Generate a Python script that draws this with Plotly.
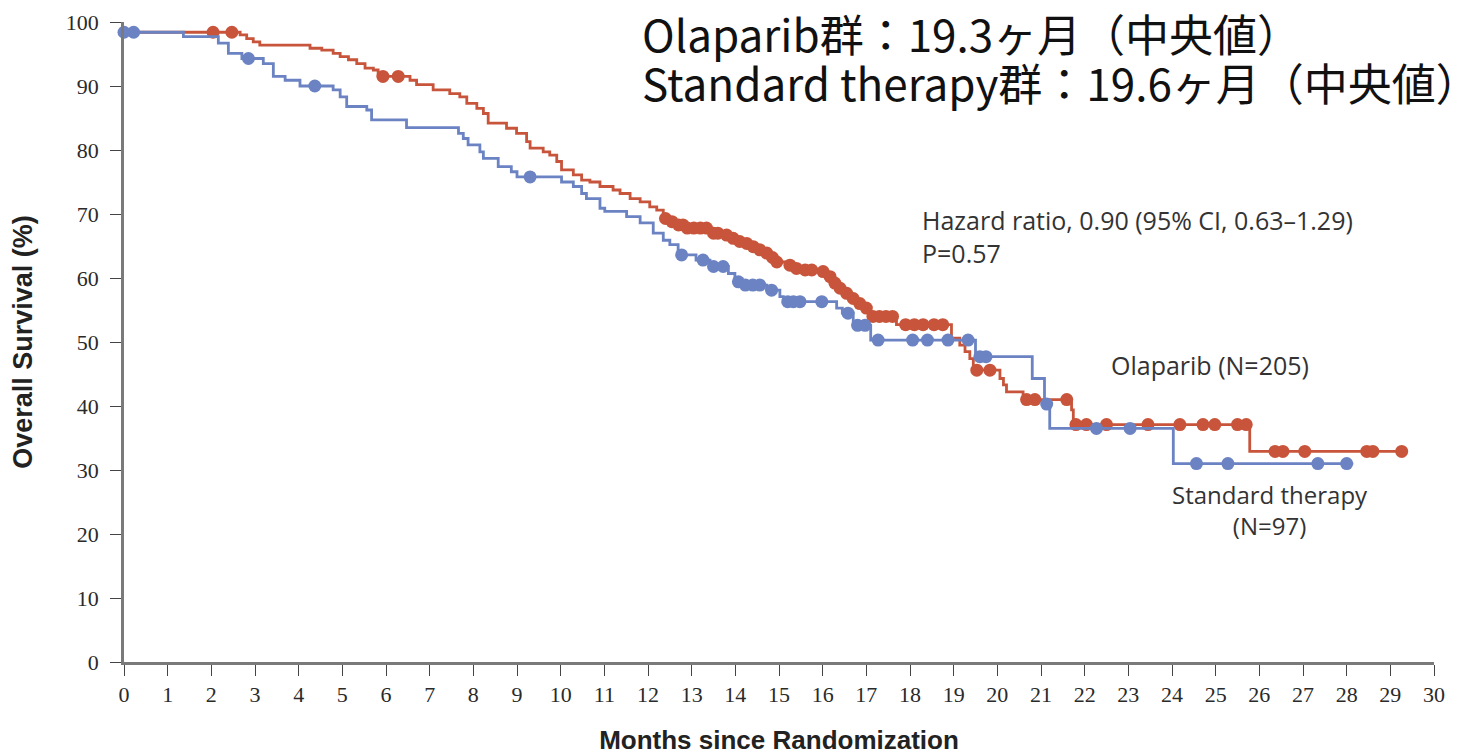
import numpy as np
import plotly.graph_objects as go

# ---------------- data ----------------
olaparib_t = [0, 2.66, 2.81, 2.96, 3.11, 4.26, 4.53, 4.79, 4.95, 5.14, 5.33, 5.52, 5.71, 5.82,
              6.55, 6.7, 7.08, 7.46, 7.69, 7.85, 8.08, 8.23, 8.34, 8.76, 8.99, 9.22, 9.3, 9.6,
              9.75, 9.91, 10.02, 10.29, 10.48, 10.67, 10.9, 11.2, 11.36, 11.59, 11.82, 12.04,
              12.2, 12.35, 12.45, 12.65, 12.85, 13.45, 13.7, 13.9, 14.05, 14.2, 14.35, 14.5,
              14.65, 14.78, 14.9, 15.15, 15.35, 15.55, 15.9, 16.12, 16.25, 16.35, 16.5, 16.65,
              16.8, 16.95, 17.1, 17.69, 18.95, 19.14, 19.26, 19.37, 19.45, 20.06, 20.14, 20.21,
              20.59, 21.7, 21.74, 21.78, 25.78, 29.3]
olaparib_s = [98.4, 98.0, 97.4, 96.9, 96.4, 95.9, 95.6, 95.1, 94.6, 94.1, 93.5, 92.8, 92.5, 91.5,
              90.9, 90.2, 89.4, 88.8, 88.3, 87.3, 86.5, 85.7, 84.2, 83.4, 82.6, 81.3, 80.3, 79.7,
              79.2, 78.2, 76.9, 76.1, 75.3, 75.0, 74.3, 73.75, 73.2, 72.4, 71.9, 71.1,
              70.6, 69.3, 68.8, 68.3, 67.8, 67.0, 66.7, 66.2, 65.7, 65.4, 64.9, 64.4,
              63.9, 63.2, 62.5, 62.0, 61.5, 61.25, 61.0, 60.2, 59.2, 58.4, 57.6, 56.8,
              56.0, 55.3, 54.0, 52.7, 50.6, 49.5, 48.5, 47.4, 45.6, 44.3, 43.3, 42.2,
              41.0, 39.4, 37.8, 37.1, 32.9, 32.9]
olaparib_censor = [2.04, 2.47, 5.93, 6.28, 12.4, 12.55, 12.7, 12.8, 12.9, 13.05, 13.2, 13.34,
                   13.5, 13.6, 13.8, 13.95, 14.1, 14.26, 14.41, 14.56, 14.72, 14.85, 14.95,
                   15.25, 15.4, 15.6, 15.75, 16.01, 16.17, 16.28, 16.4, 16.55, 16.7, 16.85,
                   17.0, 17.15, 17.3, 17.45, 17.6, 17.9, 18.1, 18.3, 18.55, 18.75, 19.53,
                   19.83, 20.67, 20.86, 21.59, 21.8, 22.04, 22.5, 23.45, 24.18, 24.71, 24.98,
                   25.5, 25.7, 26.36, 26.54, 27.04, 28.46, 28.6, 29.26]

standard_t = [0, 1.36, 2.16, 2.39, 2.7, 3.19, 3.42, 3.69, 4.03, 4.79, 4.95, 5.1, 5.56, 5.67,
              6.47, 7.66, 7.77, 7.88, 8.15, 8.23, 8.57, 8.87, 9.0, 10.02, 10.29, 10.48, 10.59,
              10.9, 11.01, 11.51, 11.82, 12.12, 12.35, 12.5, 12.69, 13.1, 13.42, 13.84, 13.99,
              14.18, 14.72, 15.02, 15.1, 16.32, 16.45, 16.7, 17.1, 19.5, 20.8, 21.08, 21.2,
              24.03, 28.15]
standard_s = [98.4, 97.7, 96.7, 95.1, 94.3, 93.5, 91.5, 90.9, 90.0, 89.4, 88.3, 86.8, 86.25, 84.7,
              83.5, 82.6, 81.8, 80.8, 79.7, 78.7, 77.4, 76.6, 75.8, 75.0, 74.3, 73.2, 72.4,
              70.9, 70.4, 69.6, 68.6, 67.0, 65.9, 65.2, 63.6, 62.8, 61.8, 60.7, 59.4,
              58.9, 58.1, 57.1, 56.3, 55.3, 54.5, 52.6, 50.3, 47.7, 44.3, 40.3, 36.5,
              31.0, 31.0]
standard_censor = [0.0, 0.22, 2.85, 4.37, 9.3, 12.77, 13.26, 13.5, 13.72, 14.07, 14.23, 14.4,
                   14.56, 14.83, 15.2, 15.33, 15.48, 15.98, 16.58, 16.8, 16.97, 17.27, 18.06,
                   18.4, 18.87, 19.33, 19.6, 19.74, 21.13, 22.27, 23.04, 24.56, 25.28, 27.34, 28.0]

x_ticks = list(range(0, 31))
y_ticks = list(range(0, 101, 10))

RED = "#c8553b"
BLUE = "#6b83c3"


def step_at(ts, ss, q):
    ts = np.asarray(ts)
    ss = np.asarray(ss)
    idx = np.searchsorted(ts, np.asarray(q), side="right") - 1
    return ss[np.clip(idx, 0, len(ss) - 1)]


fig = go.Figure()

for name, t, s, c, col in [
    ("Olaparib", olaparib_t, olaparib_s, olaparib_censor, RED),
    ("Standard therapy", standard_t, standard_s, standard_censor, BLUE),
]:
    fig.add_trace(go.Scatter(x=t, y=s, mode="lines", line=dict(color=col, width=2.8, shape="hv"),
                             name=name, showlegend=False, cliponaxis=False, hoverinfo="skip"))
    fig.add_trace(go.Scatter(x=c, y=step_at(t, s, c), mode="markers",
                             marker=dict(color=col, size=13, line=dict(width=0)),
                             name=name + " censored", showlegend=False, cliponaxis=False))

tick_font = dict(family="Liberation Serif, DejaVu Serif, serif", size=22, color="#2a2a2a")
xtitle_font = dict(family="Liberation Sans Narrow, Liberation Sans, Arial, sans-serif", size=26, color="#222222")
ytitle_font = dict(family="Liberation Sans Narrow, Liberation Sans, Arial, sans-serif", size=27, color="#222222")

# the page body has an 8px margin: figure size/margins chosen so the plot area lands where the reference has it
fig.update_layout(
    width=1454, height=747,
    margin=dict(l=116, r=28, t=14, b=93),
    paper_bgcolor="white", plot_bgcolor="white",
    showlegend=False,
    xaxis=dict(range=[0, 30], tickvals=x_ticks, ticktext=[str(v) for v in x_ticks],
               showgrid=False, zeroline=False, showline=True, linecolor="#7a7a7a", linewidth=2.5,
               ticks="outside", ticklen=11, tickwidth=1.3, tickcolor="#444444",
               tickfont=tick_font, automargin=False,
               title=dict(text="<b>Months since Randomization</b>", font=xtitle_font, standoff=28)),
    yaxis=dict(range=[0, 100], tickvals=y_ticks, ticktext=[str(v) for v in y_ticks],
               showgrid=False, zeroline=False, showline=True, linecolor="#7a7a7a", linewidth=2.5,
               ticks="outside", ticklen=11, tickwidth=1.3, tickcolor="#444444",
               tickfont=tick_font, automargin=False, ticklabelstandoff=7,
               title=dict(text="<b>Overall Survival (%)</b>", font=ytitle_font, standoff=30)),
)

ann_font = dict(family="Open Sans, Lato, sans-serif", size=25, color="#333333")
fig.add_annotation(xref="x", yref="y", x=18.23, y=66.5, xanchor="left", yanchor="middle", align="left",
                   showarrow=False, font=ann_font,
                   text="Hazard ratio, 0.90 (95% CI, 0.63\u20131.29)<br>P=0.57")
fig.add_annotation(xref="x", yref="y", x=24.87, y=46.4, xanchor="center", yanchor="middle",
                   showarrow=False, font=ann_font, text="Olaparib (N=205)")
fig.add_annotation(xref="x", yref="y", x=26.24, y=23.75, xanchor="center", yanchor="middle", align="center",
                   showarrow=False, font=dict(ann_font, size=24), text="Standard therapy<br>(N=97)")

jp_font = dict(family="Noto Sans CJK JP, sans-serif", size=44, color="#111111")
fig.add_annotation(xref="x", yref="y", x=11.82, y=98.3, xanchor="left", yanchor="middle",
                   showarrow=False, font=jp_font, text="Olaparib群：19.3ヶ月（中央値）")
fig.add_annotation(xref="x", yref="y", x=11.82, y=90.6, xanchor="left", yanchor="middle",
                   showarrow=False, font=jp_font, text="Standard therapy群：19.6ヶ月（中央値）")

fig.write_html("out.html")
